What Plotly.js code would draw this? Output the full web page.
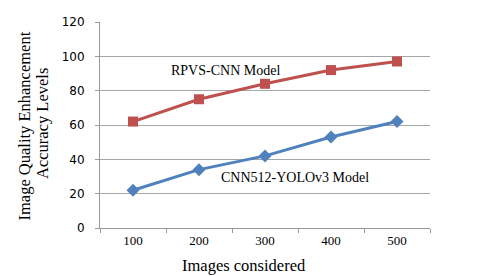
<!DOCTYPE html>
<html><head><meta charset="utf-8">
<script src="https://cdn.plot.ly/plotly-3.0.1.min.js"></script>
<style>html,body{margin:0;padding:0;background:#fff}#c{width:480px;height:276px}</style>
</head><body><div id="c"></div>
<script>
const categories = ['100','200','300','400','500'];
const rpvsCnn = [62, 75, 84, 92, 97];
const cnn512Yolo = [22, 34, 42, 53, 62];
const yTicks = [0, 20, 40, 60, 80, 100, 120];
const xTitle = 'Images considered';
const yTitleLines = ['Image Quality Enhancement', 'Accuracy Levels'];

const serif = 'Liberation Serif, Times New Roman, serif';
const sans = 'DejaVu Sans, Verdana, sans-serif';

const traces = [
  {x: categories, y: rpvsCnn, type: 'scatter', mode: 'lines+markers', name: 'RPVS-CNN Model',
   line: {color: '#C0504D', width: 3}, marker: {symbol: 'square', size: 10, color: '#C0504D'}},
  {x: categories, y: cnn512Yolo, type: 'scatter', mode: 'lines+markers', name: 'CNN512-YOLOv3 Model',
   line: {color: '#4F81BD', width: 3}, marker: {symbol: 'diamond', size: 10, color: '#4F81BD'}}
];

// pixel helpers for paper coordinates (plot area: x 100..430, y 22..228)
const L = 100, R = 50, T = 22, B = 48, W = 480, H = 276;
const px = v => (v - L) / (W - L - R);
const py = v => (H - B - v) / (H - T - B);

const layout = {
  width: W, height: H,
  margin: {l: L, r: R, t: T, b: B},
  showlegend: false,
  paper_bgcolor: '#fff', plot_bgcolor: '#fff',
  xaxis: {
    type: 'category', tickmode: 'array', tickvals: categories, ticktext: categories,
    range: [-0.5, 4.5], showgrid: false, zeroline: false,
    showline: true, linecolor: '#999', linewidth: 1,
    ticks: 'outside', ticklen: 4, tickcolor: '#999', tickson: 'boundaries',
    ticklabelstandoff: 0,
    tickfont: {family: serif, size: 13, color: '#000'}
  },
  yaxis: {
    range: [0, 120], tickvals: yTicks, showgrid: true, gridcolor: '#a6a6a6', gridwidth: 1,
    zeroline: false, showline: true, linecolor: '#999', linewidth: 1,
    ticks: 'outside', ticklen: 4, tickcolor: '#999', ticklabelstandoff: 8,
    tickfont: {family: sans, size: 12, color: '#000'}
  },
  annotations: [
    {x: 1.4, y: 92, xref: 'x', yref: 'y', text: 'RPVS-CNN Model', showarrow: false,
     font: {family: serif, size: 14, color: '#000'}},
    {x: 2.45, y: 29.5, xref: 'x', yref: 'y', text: 'CNN512-YOLOv3 Model', showarrow: false,
     font: {family: serif, size: 14, color: '#000'}},
    {x: px(243.5), y: py(265), xref: 'paper', yref: 'paper', text: xTitle, showarrow: false,
     xanchor: 'center', yanchor: 'middle', font: {family: serif, size: 16.5, color: '#000'}},
    {x: px(24), y: py(126.5), xref: 'paper', yref: 'paper', text: yTitleLines[0], showarrow: false,
     textangle: -90, xanchor: 'center', yanchor: 'middle', font: {family: serif, size: 16.5, color: '#000'}},
    {x: px(42), y: py(124), xref: 'paper', yref: 'paper', text: yTitleLines[1], showarrow: false,
     textangle: -90, xanchor: 'center', yanchor: 'middle', font: {family: serif, size: 16.5, color: '#000'}}
  ]
};
Plotly.newPlot('c', traces, layout, {displayModeBar: false, staticPlot: true});
</script></body></html>
